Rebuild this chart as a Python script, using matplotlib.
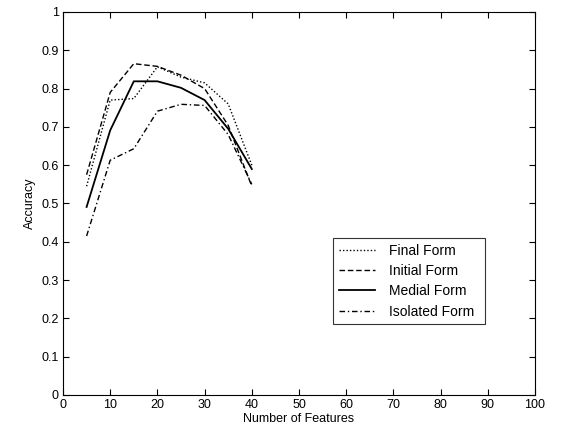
import matplotlib
matplotlib.use("Agg")
import matplotlib.pyplot as plt

plt.rcParams['font.family'] = ['Liberation Sans', 'DejaVu Sans']

features = [5, 10, 15, 20, 25, 30, 35, 40]
final_form = [0.545, 0.77, 0.774, 0.857, 0.83, 0.815, 0.76, 0.60]
initial_form = [0.575, 0.79, 0.865, 0.858, 0.835, 0.80, 0.704, 0.545]
medial_form = [0.491, 0.691, 0.819, 0.819, 0.802, 0.77, 0.695, 0.59]
isolated_form = [0.415, 0.613, 0.643, 0.741, 0.759, 0.756, 0.68, 0.55]

fig = plt.figure(figsize=(5.64, 4.33), dpi=100)
ax = fig.add_axes([0.1117, 0.0878, 0.8369, 0.8845])

ax.plot(features, final_form, color='black', linestyle=(0, (1, 1.5)), linewidth=1.0, label='Final Form')
ax.plot(features, initial_form, color='black', linestyle=(0, (4, 2)), linewidth=1.0, label='Initial Form')
ax.plot(features, medial_form, color='black', linestyle='-', linewidth=1.3, label='Medial Form')
ax.plot(features, isolated_form, color='black', linestyle=(0, (4, 2, 1, 2)), linewidth=1.0, label='Isolated Form')

ax.set_xlim(0, 100)
ax.set_ylim(0, 1)
ax.set_xticks(range(0, 101, 10))
ax.set_yticks([i / 10 for i in range(11)])
ax.set_yticklabels(['0', '0.1', '0.2', '0.3', '0.4', '0.5', '0.6', '0.7', '0.8', '0.9', '1'])
ax.tick_params(direction='in', length=4, top=True, right=True, labelsize=9, pad=3)
ax.set_xlabel('Number of Features', fontsize=9, labelpad=1)
ax.set_ylabel('Accuracy', fontsize=9, labelpad=4)
for s in ax.spines.values():
    s.set_linewidth(0.8)

leg = ax.legend(loc='lower left', bbox_to_anchor=(0.572, 0.185, 0.322, 0.23), mode='expand',
                fontsize=10, frameon=True, fancybox=False, edgecolor='black',
                handlelength=2.6, handletextpad=1.0, borderaxespad=0, labelspacing=0.45)
leg.get_frame().set_linewidth(0.8)

fig.savefig('out.png', dpi=100)
